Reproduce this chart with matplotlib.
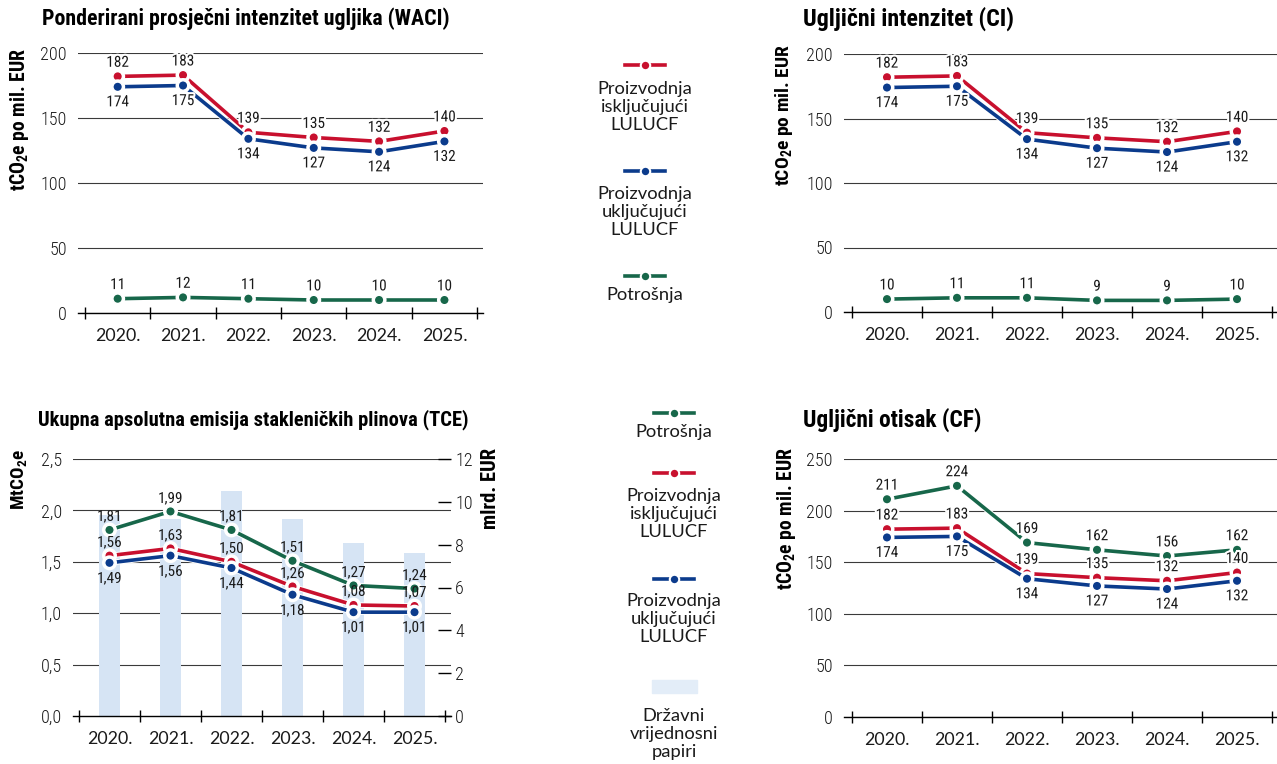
import matplotlib
matplotlib.use('Agg')
import matplotlib.pyplot as plt
import matplotlib.patheffects as pe
import matplotlib.transforms as mtrans
from matplotlib import font_manager as fm
from matplotlib.patches import Rectangle
from matplotlib.lines import Line2D

# ---------------- data ----------------
years = ['2020.', '2021.', '2022.', '2023.', '2024.', '2025.']

waci_excl = [182, 183, 139, 135, 132, 140]
waci_incl = [174, 175, 134, 127, 124, 132]
waci_cons = [11, 12, 11, 10, 10, 10]

ci_excl = [182, 183, 139, 135, 132, 140]
ci_incl = [174, 175, 134, 127, 124, 132]
ci_cons = [10, 11, 11, 9, 9, 10]

tce_cons = [1.81, 1.99, 1.81, 1.51, 1.27, 1.24]
tce_excl = [1.56, 1.63, 1.50, 1.26, 1.08, 1.07]
tce_incl = [1.49, 1.56, 1.44, 1.18, 1.01, 1.01]
tce_bonds = [9.4, 9.2, 10.5, 9.2, 8.1, 7.6]

cf_cons = [211, 224, 169, 162, 156, 162]
cf_excl = [182, 183, 139, 135, 132, 140]
cf_incl = [174, 175, 134, 127, 124, 132]

titles = ['Ponderirani prosječni intenzitet ugljika (WACI)',
          'Ugljični intenzitet (CI)',
          'Ukupna apsolutna emisija stakleničkih plinova (TCE)',
          'Ugljični otisak (CF)']
lab_excl = 'Proizvodnja\nisključujući\nLULUCF'
lab_incl = 'Proizvodnja\nuključujući\nLULUCF'
lab_cons = 'Potrošnja'
lab_bonds = 'Državni\nvrijednosni\npapiri'

# ---------------- style ----------------
RED = '#C8102E'
BLUE = '#0B3B8C'
GREEN = '#17674A'
BAR = '#D6E4F4'
GRID = '#3a3a3a'
TXT = '#1a1a1a'

avail = {f.name for f in fm.fontManager.ttflist}


def pick(*names):
    for n in names:
        if n in avail:
            return n
    return 'DejaVu Sans'


NARROW = pick('Liberation Sans Narrow', 'Roboto Condensed', 'Open Sans Condensed',
              'Arial Narrow', 'Roboto', 'Liberation Sans')
REG = pick('Lato', 'Open Sans', 'Noto Sans', 'DejaVu Sans')

plt.rcParams['mathtext.fontset'] = 'custom'
plt.rcParams['mathtext.rm'] = NARROW
plt.rcParams['mathtext.bf'] = NARROW + ':bold'
plt.rcParams['mathtext.it'] = NARROW

W, H = 1277, 764
fig = plt.figure(figsize=(W / 100, H / 100), dpi=100)
renderer = fig.canvas.get_renderer()


def rect(l, t, r, b):
    return [l / W, 1 - b / H, (r - l) / W, (b - t) / H]


def fit(txt, target, vertical=False):
    bb = txt.get_window_extent(renderer=renderer)
    cur = bb.height if vertical else bb.width
    if cur > 0:
        txt.set_fontsize(txt.get_fontsize() * target / cur)


def fig_title(s, x, y, target_w):
    t = fig.text(x / W, 1 - y / H, s, ha='left', va='center', fontsize=15,
                 family=[NARROW, 'DejaVu Sans'], fontweight='bold', color='black')
    fit(t, target_w * 1.09)
    return t


def fig_ylabel(s, x, ytop, length):
    t = fig.text(x / W, 1 - ytop / H, s, ha='center', va='top', rotation=90,
                 fontsize=14, family=[NARROW, 'DejaVu Sans'], fontweight='bold',
                 color='black')
    fit(t, length, vertical=True)
    return t


LBL_FX = [pe.withStroke(linewidth=3.0, foreground='white')]
LINE_FX = [pe.Stroke(linewidth=4.0, foreground='white'), pe.Normal()]


def series(ax, vals, color, where, fmt, halo=True):
    x = list(range(len(vals)))
    ax.plot(x, vals, color=color, lw=2.6, marker='o', ms=6.8, mfc=color,
            mec='white', mew=1.0, zorder=5, path_effects=LINE_FX,
            solid_joinstyle='round')
    dy = 9.8 if where == 'above' else -11.2
    for i, v in enumerate(vals):
        ax.annotate(fmt(v), (i, v), xytext=(0, dy), textcoords='offset points',
                    ha='center', va='center', fontsize=11,
                    family=[NARROW, 'DejaVu Sans'], color=TXT,
                    path_effects=LBL_FX if halo else None, zorder=10)


def style_axes(ax, xlim, ylim, yticks, yfmt, grid=True):
    ax.set_xlim(*xlim)
    ax.set_ylim(*ylim)
    ax.set_yticks(yticks)
    ax.set_yticklabels([yfmt(v) for v in yticks])
    ax.set_xticks(range(len(years)))
    ax.set_xticklabels(years)
    ax.set_xticks([i - 0.5 for i in range(len(years) + 1)], minor=True)
    for s in ['left', 'right', 'top']:
        ax.spines[s].set_visible(False)
    ax.spines['bottom'].set_color('black')
    ax.spines['bottom'].set_linewidth(1.0)
    ax.spines['bottom'].set_zorder(6)
    ax.tick_params(axis='x', which='major', length=0, pad=10.5, labelsize=12.8,
                   labelcolor=TXT)
    ax.tick_params(axis='x', which='minor', direction='inout', length=8,
                   width=1.0, color='black')
    ax.tick_params(axis='y', length=0, pad=8, labelsize=13, labelcolor=TXT)
    for lab in ax.get_xticklabels():
        lab.set_family([REG, 'DejaVu Sans'])
    for lab in ax.get_yticklabels():
        lab.set_family([NARROW, 'DejaVu Sans'])
        lab.set_fontweight('light')
    if grid:
        ax.yaxis.grid(True, color=GRID, lw=0.8)
        ax.set_axisbelow(True)


intfmt = lambda v: f'{v:d}'
decfmt = lambda v: f'{v:.2f}'.replace('.', ',')
tickint = lambda v: f'{int(v)}'
tickdec = lambda v: f'{v:.1f}'.replace('.', ',')

# ---------------- WACI ----------------
ax1 = fig.add_axes(rect(78, 53, 483, 313))
style_axes(ax1, (-0.607, 5.59), (0, 200), [0, 50, 100, 150, 200], tickint)
series(ax1, waci_excl, RED, 'above', intfmt)
series(ax1, waci_incl, BLUE, 'below', intfmt)
series(ax1, waci_cons, GREEN, 'above', intfmt)
fig_title(titles[0], 42, 19, 375)
fig_ylabel(r'tCO$_\mathbf{2}$e po mil. EUR', 20, 48, 143)

# ---------------- CI ----------------
ax2 = fig.add_axes(rect(844, 54, 1277, 312))
style_axes(ax2, (-0.614, 5.571), (0, 200), [0, 50, 100, 150, 200], tickint)
series(ax2, ci_excl, RED, 'above', intfmt)
series(ax2, ci_incl, BLUE, 'below', intfmt)
series(ax2, ci_cons, GREEN, 'above', intfmt)
fig_title(titles[1], 803, 19, 194)
fig_ylabel(r'tCO$_\mathbf{2}$e po mil. EUR', 784, 44, 142)

# ---------------- TCE ----------------
ax3 = fig.add_axes(rect(73, 459, 451, 716))
ax3b = ax3.twinx()
ax3b.bar(range(len(years)), tce_bonds, width=0.33, color=BAR, zorder=2)
style_axes(ax3, (-0.598, 5.598), (0, 2.5), [0, 0.5, 1.0, 1.5, 2.0, 2.5], tickdec,
           grid=False)
ax3b.set_xlim(-0.598, 5.598)
ax3b.set_ylim(0, 12)
ax3b.set_yticks([0, 2, 4, 6, 8, 10, 12])
ax3b.set_yticklabels([tickint(v) for v in [0, 2, 4, 6, 8, 10, 12]])
for s in ax3b.spines.values():
    s.set_visible(False)
ax3b.tick_params(axis='y', direction='in', length=9.5, width=1.0, color='black',
                 pad=3, labelsize=13, labelcolor=TXT)
for lab in ax3b.get_yticklabels():
    lab.set_family([NARROW, 'DejaVu Sans'])
    lab.set_fontweight('light')
blend = mtrans.blended_transform_factory(ax3b.transAxes, ax3.transData)
for v in ax3.get_yticks()[1:]:
    ax3b.add_line(Line2D([0, 1], [v, v], transform=blend, color=GRID, lw=0.8,
                         zorder=1))
ax3.set_zorder(ax3b.get_zorder() + 1)
ax3.patch.set_visible(False)
series(ax3, tce_cons, GREEN, 'above', decfmt, halo=False)
series(ax3, tce_excl, RED, 'above', decfmt, halo=False)
series(ax3, tce_incl, BLUE, 'below', decfmt, halo=False)
fig_title(titles[2], 38, 420, 396)
fig_ylabel(r'MtCO$_\mathbf{2}$e', 19, 449, 61)
fig_ylabel('mlrd. EUR', 490, 448, 82)

# ---------------- CF ----------------
ax4 = fig.add_axes(rect(844, 459, 1277, 717))
style_axes(ax4, (-0.614, 5.571), (0, 250), [0, 50, 100, 150, 200, 250], tickint)
series(ax4, cf_cons, GREEN, 'above', intfmt)
series(ax4, cf_excl, RED, 'above', intfmt)
series(ax4, cf_incl, BLUE, 'below', intfmt)
fig_title(titles[3], 803, 420, 164)
fig_ylabel(r'tCO$_\mathbf{2}$e po mil. EUR', 786, 447, 143)

# ---------------- legends ----------------
lg = fig.add_axes([0, 0, 1, 1])
lg.set_xlim(0, W)
lg.set_ylim(H, 0)
lg.axis('off')
lg.patch.set_visible(False)


def leg_line(xc, y, color):
    lg.plot([xc - 20, xc + 20], [y, y], color=color, lw=2.6, zorder=3,
            path_effects=LINE_FX)
    lg.plot([xc], [y], 'o', ms=6.8, mfc=color, mec='white', mew=1.5, zorder=4)


def leg_text(xc, y, s):
    lg.text(xc, y, s, ha='center', va='center', fontsize=13.2,
            family=[REG, 'DejaVu Sans'], color=TXT, linespacing=1.18)


# top legend
leg_line(645, 65, RED)
leg_text(645, 107, lab_excl)
leg_line(645, 171, BLUE)
leg_text(645, 212, lab_incl)
leg_line(645, 276, GREEN)
leg_text(645, 295, lab_cons)

# bottom legend
leg_line(674, 413, GREEN)
leg_text(674, 432, lab_cons)
leg_line(674, 473, RED)
leg_text(674, 514, lab_excl)
leg_line(674, 579, BLUE)
leg_text(674, 619, lab_incl)
lg.add_patch(Rectangle((652, 680), 45, 13, color='#E3EDF8', zorder=2))
leg_text(674, 734, lab_bonds)

fig.savefig('out.png', dpi=100)
